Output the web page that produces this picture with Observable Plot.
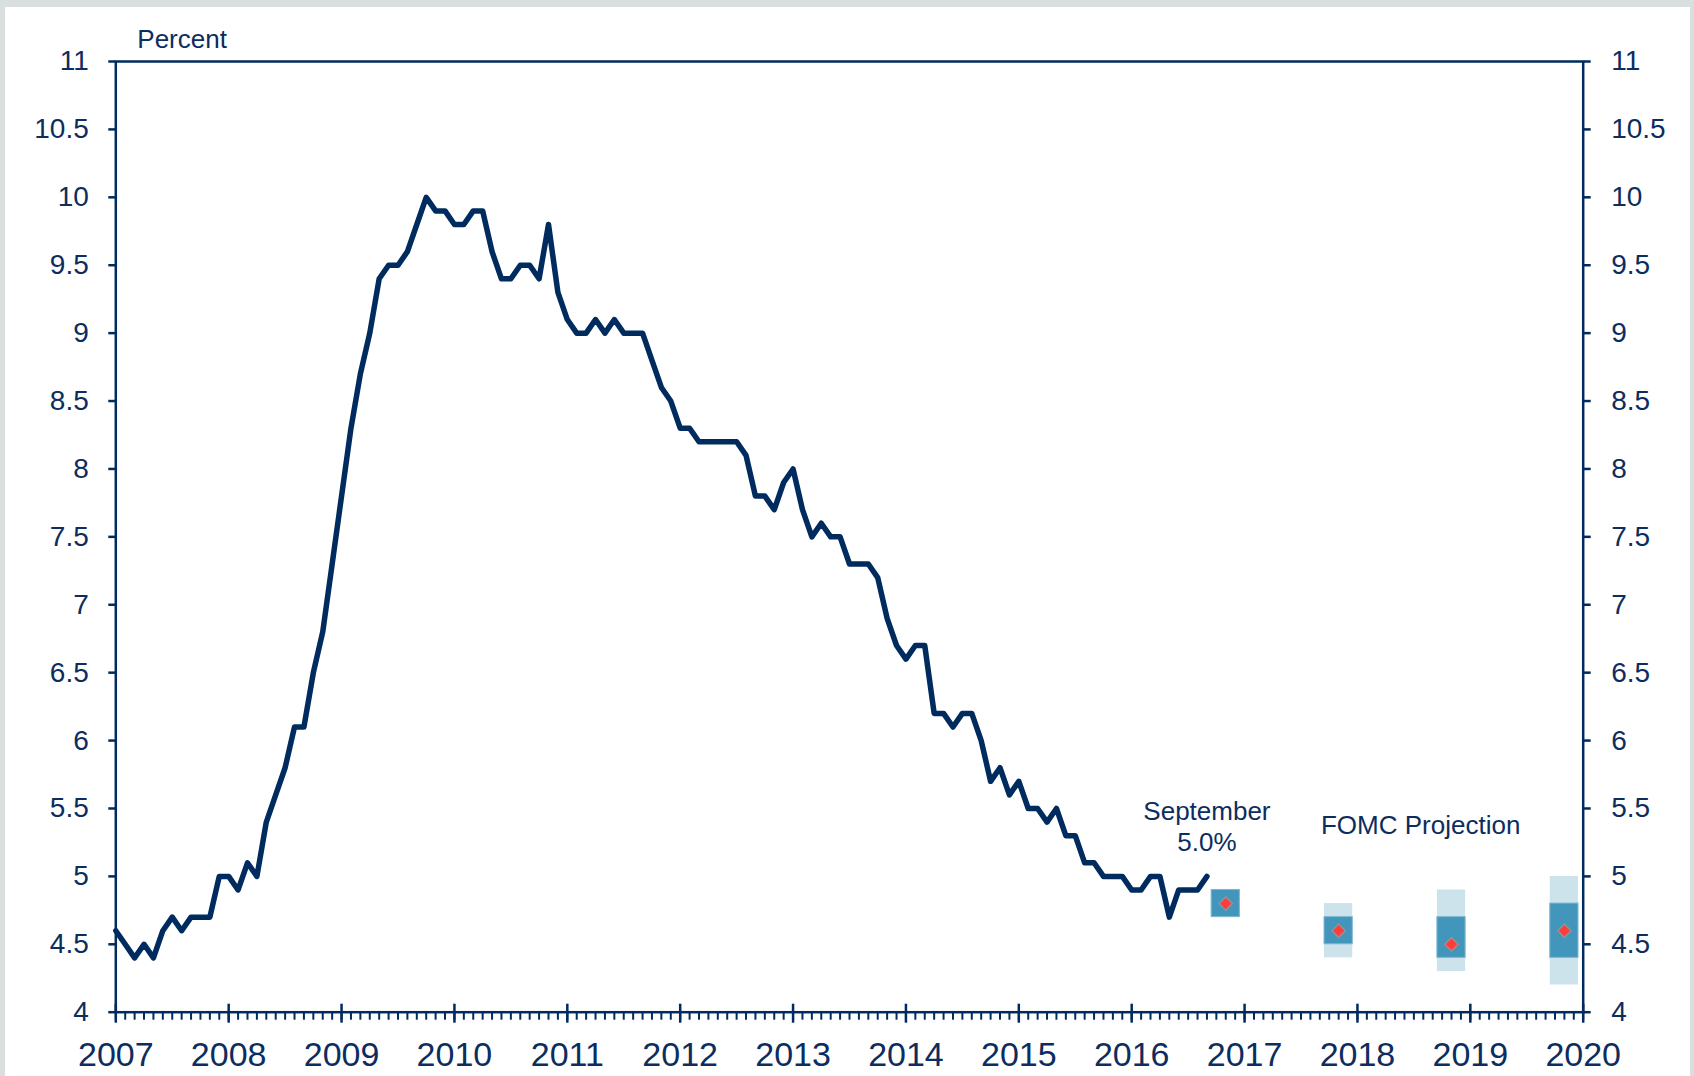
<!DOCTYPE html>
<html>
<head>
<meta charset="utf-8">
<script src="https://cdn.jsdelivr.net/npm/d3@7"></script>
<script src="https://cdn.jsdelivr.net/npm/@observablehq/plot@0.6"></script>
<style>
html, body { margin: 0; padding: 0; background: #d9dfdf; overflow: hidden; width: 1694px; height: 1076px; }
#chart { position: absolute; left: 5px; top: 7px; width: 1685px; height: 1069px; background: #ffffff; }
</style>
</head>
<body>
<div id="chart"></div>
<script>
// ---- Data ----
const startYear = 2007;
const u2007 = [4.6, 4.5, 4.4, 4.5, 4.4, 4.6, 4.7, 4.6, 4.7, 4.7, 4.7, 5.0];
const u2008 = [5.0, 4.9, 5.1, 5.0, 5.4, 5.6, 5.8, 6.1, 6.1, 6.5, 6.8, 7.3];
const u2009 = [7.8, 8.3, 8.7, 9.0, 9.4, 9.5, 9.5, 9.6, 9.8, 10.0, 9.9, 9.9];
const u2010 = [9.8, 9.8, 9.9, 9.9, 9.6, 9.4, 9.4, 9.5, 9.5, 9.4, 9.8, 9.3];
const u2011 = [9.1, 9.0, 9.0, 9.1, 9.0, 9.1, 9.0, 9.0, 9.0, 8.8, 8.6, 8.5];
const u2012 = [8.3, 8.3, 8.2, 8.2, 8.2, 8.2, 8.2, 8.1, 7.8, 7.8, 7.7, 7.9];
const u2013 = [8.0, 7.7, 7.5, 7.6, 7.5, 7.5, 7.3, 7.3, 7.3, 7.2, 6.9, 6.7];
const u2014 = [6.6, 6.7, 6.7, 6.2, 6.2, 6.1, 6.2, 6.2, 6.0, 5.7, 5.8, 5.6];
const u2015 = [5.7, 5.5, 5.5, 5.4, 5.5, 5.3, 5.3, 5.1, 5.1, 5.0, 5.0, 5.0];
const u2016 = [4.9, 4.9, 5.0, 5.0, 4.7, 4.9, 4.9, 4.9, 5.0];

const projYears  = [2016, 2017, 2018, 2019];
const projMonth  = 10; // plotted in November (month index) of each year
const projMedian = [4.8, 4.6, 4.5, 4.6];
const ctLow      = [4.7, 4.5, 4.4, 4.4];
const ctHigh     = [4.9, 4.7, 4.7, 4.8];
const rangeLow   = [4.7, 4.4, 4.3, 4.2];
const rangeHigh  = [4.9, 4.8, 4.9, 5.0];

const yTicks = [4, 4.5, 5, 5.5, 6, 6.5, 7, 7.5, 8, 8.5, 9, 9.5, 10, 10.5, 11];
const xYears = [2007, 2008, 2009, 2010, 2011, 2012, 2013, 2014, 2015, 2016, 2017, 2018, 2019, 2020];

const labelText = ["September\n5.0%", "FOMC Projection"];
const labelX = [2016 + 8 / 12, 2018.56];
const labelY = [5.185, 5.31];

// ---- Derived tables ----
const monthly = [u2007, u2008, u2009, u2010, u2011, u2012, u2013, u2014, u2015, u2016]
  .flat()
  .map((v, i) => ({ x: startYear + i / 12, value: v }));
const proj = projYears.map((yr, i) => ({
  x: yr + projMonth / 12,
  median: projMedian[i], ctLow: ctLow[i], ctHigh: ctHigh[i],
  rangeLow: rangeLow[i], rangeHigh: rangeHigh[i]
}));
const monthTicks = d3.range(0, (xYears[xYears.length - 1] - xYears[0]) * 12 + 1).map(i => xYears[0] + i / 12);
const labels = labelText.map((t, i) => ({ text: t, x: labelX[i], y: labelY[i] }));

// ---- Style ----
const navy = "#002b5e";
const ink = "#0c2d5e";
const halfW = 0.125;

const chart = Plot.plot({
  width: 1685,
  height: 1069,
  marginLeft: 110.3,
  marginRight: 107.3,
  marginTop: 54,
  marginBottom: 64.3,
  style: { fontFamily: "'Liberation Sans', Arial, sans-serif", color: ink, background: "#ffffff", overflow: "visible" },
  x: { domain: [2007, 2020], axis: null },
  y: { domain: [4, 11], axis: null },
  marks: [
    Plot.rect(proj, { x1: d => d.x - halfW, x2: d => d.x + halfW, y1: "rangeLow", y2: "rangeHigh", fill: "#cde3ec" }),
    Plot.rect(proj, { x1: d => d.x - halfW, x2: d => d.x + halfW, y1: "ctLow", y2: "ctHigh", fill: "#4396bb", stroke: "#7fb7d0", strokeWidth: 1 }),
    Plot.dot(proj, { x: "x", y: "median", symbol: "diamond2", r: 6, fill: "#ff3b3b", stroke: "#9e8e8e", strokeWidth: 1.5 }),
    Plot.line(monthly, { x: "x", y: "value", stroke: navy, strokeWidth: 5.5, strokeLinejoin: "round", strokeLinecap: "round" }),
    Plot.frame({ stroke: navy, strokeWidth: 2.5 }),
    Plot.axisY(yTicks, { anchor: "left", tickSize: 7, tickPadding: 20, fontSize: 28, tickFormat: d => String(d), stroke: navy, strokeWidth: 2.5, fill: ink, label: null }),
    Plot.axisY(yTicks, { anchor: "right", tickSize: 7, tickPadding: 21, fontSize: 28, tickFormat: d => String(d), stroke: navy, strokeWidth: 2.5, fill: ink, label: null }),
    Plot.axisX(monthTicks, { anchor: "bottom", tickSize: 8, fill: "none", stroke: navy, strokeWidth: 2, label: null }),
    Plot.axisX(xYears, { anchor: "bottom", tickSize: 19, dy: -8, fill: "none", stroke: navy, strokeWidth: 2.5, label: null }),
    Plot.axisX(xYears, { anchor: "bottom", tickSize: 0, tickPadding: 30, fontSize: 34, tickFormat: d => String(d), fill: ink, label: null }),
    Plot.text(["Percent"], { frameAnchor: "top-left", dx: 21.5, dy: -14, textAnchor: "start", lineAnchor: "bottom", fontSize: 26, fill: ink }),
    Plot.text(labels, { x: "x", y: "y", text: "text", fontSize: 26, lineAnchor: "bottom", lineHeight: 1.2, fill: ink })
  ]
});
document.getElementById("chart").appendChild(chart);
</script>
</body>
</html>
